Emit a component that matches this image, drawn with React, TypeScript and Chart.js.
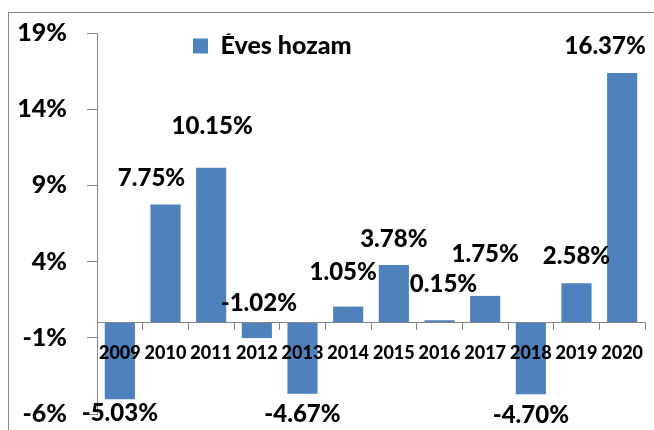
import React, { useEffect, useRef } from "react";
import { Chart, registerables } from "chart.js";

Chart.register(...registerables);

// ---- data ----
const categories = ["2009", "2010", "2011", "2012", "2013", "2014", "2015", "2016", "2017", "2018", "2019", "2020"];
const seriesName = "Éves hozam";
const annualReturns = [-5.03, 7.75, 10.15, -1.02, -4.67, 1.05, 3.78, 0.15, 1.75, -4.7, 2.58, 16.37];
const yTickValues = [-6, -1, 4, 9, 14, 19];

// value-label nudges (px) relative to bar centre / bar tip, as placed in the original
const labelDx = [0, -14, 1, 2, 0, -5, 0, 4, 0, 0, 0, -17];
const labelDy = [13, -27, -43, -36, 20, -35, -27, -37, -43, 20, -28, -28];

const BAR_COLOR = "#4F81BD";
const AXIS_COLOR = "#868686";
const FONT = "Lato";
const WEIGHT = "900";

const valueLabels = {
  id: "valueLabels",
  afterDraw(chart: any) {
    const ctx = chart.ctx;
    const meta = chart.getDatasetMeta(0);
    const yScale = chart.scales.y;
    const size = 24;
    ctx.save();
    ctx.font = `${WEIGHT} ${size}px ${FONT}`;
    ctx.fillStyle = "#000";
    ctx.textAlign = "center";
    ctx.textBaseline = "alphabetic";
    const capHalf = (0.72 * size) / 2;
    meta.data.forEach((bar: any, i: number) => {
      const v = annualReturns[i];
      const tip = yScale.getPixelForValue(v);
      ctx.fillText(v.toFixed(2) + "%", bar.x + labelDx[i], tip + labelDy[i] + capHalf);
    });
    ctx.restore();
  },
};

const legendPlacer = {
  id: "legendPlacer",
  afterLayout(chart: any) {
    const lg = chart.legend;
    if (!lg) return;
    const w = lg.width;
    const h = lg.height;
    lg.left = 193;
    lg.top = 33.5;
    lg.right = lg.left + Math.max(w, 300);
    lg.bottom = lg.top + Math.max(h, 30);
  },
};

export default function App() {
  const canvasRef = useRef<HTMLCanvasElement | null>(null);

  useEffect(() => {
    const canvas = canvasRef.current;
    if (!canvas) return;
    const chart = new Chart(canvas, {
      type: "bar",
      data: {
        labels: categories,
        datasets: [
          {
            label: seriesName,
            data: annualReturns,
            backgroundColor: BAR_COLOR,
            borderWidth: 0,
            categoryPercentage: 1,
            barPercentage: 0.66,
          },
        ],
      },
      options: {
        responsive: false,
        animation: false,
        devicePixelRatio: 1,
        layout: { padding: { top: 33, bottom: 16, left: 0, right: 9 } },
        plugins: {
          tooltip: { enabled: false },
          legend: {
            display: true,
            position: "chartArea",
            align: "start",
            labels: {
              boxWidth: 15,
              boxHeight: 15,
              padding: 0,
              color: "#000",
              font: { family: FONT, size: 25, weight: WEIGHT },
            },
          },
        },
        scales: {
          x: {
            type: "category",
            position: { y: 0 } as any,
            offset: true,
            afterFit: (s: any) => {
              s.height = 0;
              s.paddingLeft = 0;
              s.paddingRight = 0;
              s.paddingTop = 0;
              s.paddingBottom = 0;
            },
            grid: {
              display: true,
              drawOnChartArea: false,
              drawTicks: true,
              tickLength: 7,
              color: AXIS_COLOR,
              offset: true,
              z: 1,
            },
            border: { display: true, color: AXIS_COLOR, width: 1, z: 1 },
            ticks: {
              color: "#000",
              font: { family: FONT, size: 18, weight: WEIGHT },
              padding: 13,
              maxRotation: 0,
              autoSkip: false,
              z: 1,
            },
          },
          y: {
            type: "linear",
            min: yTickValues[0],
            max: yTickValues[yTickValues.length - 1],
            afterBuildTicks: (s: any) => {
              s.ticks = yTickValues.map((v) => ({ value: v }));
            },
            afterFit: (s: any) => {
              s.width = 97;
              s.paddingTop = 0;
              s.paddingBottom = 0;
            },
            grid: {
              display: true,
              drawOnChartArea: false,
              drawTicks: true,
              tickLength: 10,
              color: AXIS_COLOR,
            },
            border: { display: true, color: AXIS_COLOR, width: 1 },
            ticks: {
              color: "#000",
              font: { family: FONT, size: 25, weight: WEIGHT },
              padding: 20,
              callback: (v: any) => v + "%",
            },
          },
        },
      },
      plugins: [valueLabels, legendPlacer],
    });

    let alive = true;
    if ((document as any).fonts && (document as any).fonts.load) {
      Promise.all([
        (document as any).fonts.load(`${WEIGHT} 24px ${FONT}`),
        (document as any).fonts.load(`${WEIGHT} 18px ${FONT}`),
      ]).then(() => {
        if (alive) chart.update();
      }).catch(() => {});
    }
    return () => {
      alive = false;
      chart.destroy();
    };
  }, []);

  return (
    <>
      <div
        style={{
          position: "absolute",
          left: 8,
          top: 12,
          width: 646,
          height: 418,
          boxSizing: "border-box",
          borderLeft: "1px solid #8a8a8a",
          borderTop: "1px solid #8a8a8a",
        }}
      />
      <div style={{ position: "absolute", left: 0, top: 0, width: 654, height: 430 }}>
        <canvas ref={canvasRef} width={654} height={430} style={{ width: 654, height: 430, display: "block" }} />
      </div>
    </>
  );
}
